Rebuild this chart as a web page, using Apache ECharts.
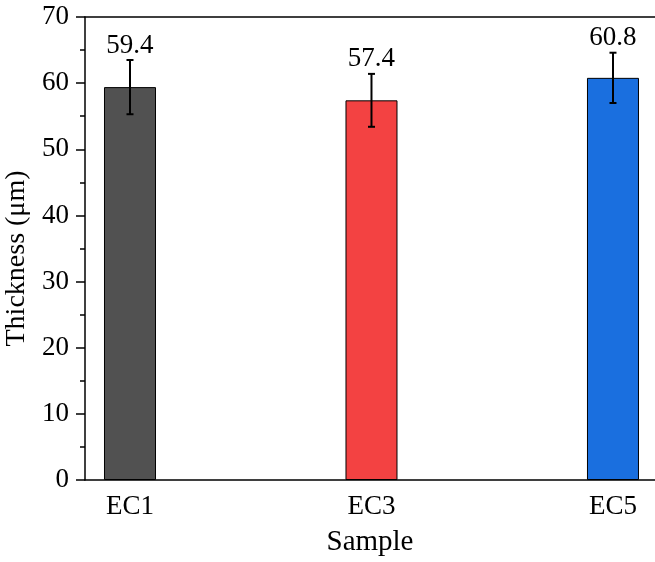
<!DOCTYPE html>
<html>
<head>
<meta charset="utf-8">
<script src="https://cdn.jsdelivr.net/npm/echarts@6/dist/echarts.min.js"></script>
<style>
  html, body { margin: 0; padding: 0; background: #fff; }
  #chart { width: 655px; height: 562px; }
</style>
</head>
<body>
<div id="chart"></div>
<script>
// data
const categories = ['EC1', 'EC3', 'EC5'];
const thickness = [59.4, 57.4, 60.8];
const errors = [4.1, 4.0, 3.8];
const barColors = ['#515151', '#F34242', '#1A6FDF'];
const yTicks = [0, 10, 20, 30, 40, 50, 60, 70];

const font = 'Liberation Serif, Times New Roman, serif';
const axisColor = '#000';

// categories sit at x = 1, 2, 3 on a value axis (Origin-style layout)
const xMin = 0.8137;
const xMax = 3.174;

const barData = thickness.map((v, i) => ({
    value: [i + 1, v],
    itemStyle: { color: barColors[i] }
}));
const errData = thickness.map((v, i) => [i + 1, v, errors[i]]);

const chart = echarts.init(document.getElementById('chart'));

chart.setOption({
    animation: false,
    backgroundColor: '#fff',
    grid: { left: 85, right: 0, top: 17, bottom: 82, outerBoundsMode: 'none', containLabel: false },
    xAxis: [
        {
            type: 'value',
            min: xMin,
            max: xMax,
            name: 'Sample',
            nameLocation: 'middle',
            nameGap: 48,
            nameTextStyle: { fontFamily: font, fontSize: 29, color: '#000' },
            axisLine: { show: true, lineStyle: { color: axisColor, width: 1.5 } },
            axisTick: { show: false },
            splitLine: { show: false },
            axisLabel: {
                customValues: [1, 2, 3],
                formatter: (v) => categories[Math.round(v) - 1] || '',
                fontFamily: font,
                fontSize: 27,
                color: '#000',
                margin: 13
            }
        },
        {
            type: 'value',
            position: 'top',
            min: xMin,
            max: xMax,
            axisLine: { show: true, lineStyle: { color: axisColor, width: 1.5 } },
            axisTick: { show: false },
            axisLabel: { show: false },
            splitLine: { show: false }
        }
    ],
    yAxis: {
        type: 'value',
        min: 0,
        max: 70,
        interval: 10,
        name: 'Thickness (μm)',
        nameLocation: 'middle',
        nameGap: 47,
        nameTextStyle: { fontFamily: font, fontSize: 28, color: '#000', padding: [0, 20, 0, 0] },
        axisLine: { show: true, lineStyle: { color: axisColor, width: 1.5 } },
        axisTick: { show: true, length: 9, lineStyle: { color: axisColor, width: 1.5 } },
        minorTick: { show: true, splitNumber: 2, length: 5, lineStyle: { color: axisColor, width: 1.5 } },
        splitLine: { show: false },
        axisLabel: {
            fontFamily: font,
            fontSize: 27,
            color: '#000',
            margin: 16,
            formatter: (v) => yTicks.includes(v) ? String(v) : ''
        }
    },
    series: [
        {
            type: 'bar',
            xAxisIndex: 0,
            barWidth: 52,
            data: barData,
            itemStyle: { borderColor: '#000', borderWidth: 1 }
        },
        {
            type: 'custom',
            xAxisIndex: 0,
            data: errData,
            z: 10,
            renderItem: (params, api) => {
                const x = api.value(0);
                const v = api.value(1);
                const e = api.value(2);
                const top = api.coord([x, v + e]);
                const bot = api.coord([x, v - e]);
                const cap = 3.5;
                const style = { stroke: '#000', lineWidth: 2 };
                return {
                    type: 'group',
                    children: [
                        { type: 'line', shape: { x1: top[0], y1: top[1], x2: bot[0], y2: bot[1] }, style },
                        { type: 'line', shape: { x1: top[0] - cap, y1: top[1], x2: top[0] + cap, y2: top[1] }, style },
                        { type: 'line', shape: { x1: bot[0] - cap, y1: bot[1], x2: bot[0] + cap, y2: bot[1] }, style },
                        {
                            type: 'text',
                            x: top[0],
                            y: top[1] - 1,
                            style: {
                                text: v.toFixed(1),
                                fontFamily: font,
                                fontSize: 27,
                                fill: '#000',
                                align: 'center',
                                verticalAlign: 'bottom'
                            }
                        }
                    ]
                };
            }
        }
    ]
});
</script>
</body>
</html>
